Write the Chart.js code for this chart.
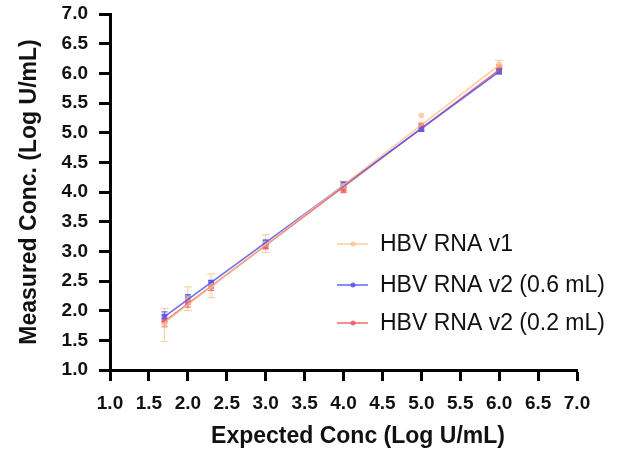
<!DOCTYPE html>
<html>
<head>
<meta charset="utf-8">
<script src="https://cdn.jsdelivr.net/npm/chart.js@4/dist/chart.umd.min.js"></script>
<style>
  html, body { margin: 0; padding: 0; background: #fff; }
  #wrap { width: 636px; height: 449px; }
</style>
</head>
<body>
<div id="wrap"><canvas id="concChart" width="636" height="449"></canvas></div>
<script>
// expected concentration (Log U/mL)
const expected = [1.7, 2.0, 2.3, 3.0, 4.0, 5.0, 6.0];

// measured means and SD per assay
const v1Mean = [1.76, 2.20, 2.42, 3.13, 4.10, 5.29, 6.15];
const v1Sd = [0.28, 0.20, 0.20, 0.15, 0.08, 0.0, 0.07];
const v206Mean = [1.90, 2.21, 2.47, 3.15, 4.12, 5.06, 6.03];
const v206Sd = [0.08, 0.06, 0.04, 0.04, 0.05, 0.04, 0.04];
const v202Mean = [1.83, 2.14, 2.41, 3.09, 4.05, 5.10, 6.09];
const v202Sd = [0.10, 0.08, 0.07, 0.05, 0.06, 0.06, 0.05];

// fitted lines, end points
const fitX = [1.7, 6.0];
const v1Fit = [1.80, 6.14];
const v206Fit = [1.90, 6.03];
const v202Fit = [1.82, 6.06];

const axisTicks = ['1.0', '1.5', '2.0', '2.5', '3.0', '3.5', '4.0', '4.5', '5.0', '5.5', '6.0', '6.5', '7.0'];
const seriesNames = ['HBV RNA v1', 'HBV RNA v2 (0.6 mL)', 'HBV RNA v2 (0.2 mL)'];
const xTitle = 'Expected Conc (Log U/mL)';
const yTitle = 'Measured Conc. (Log U/mL)';

const colV1 = 'rgba(246, 192, 140, 0.75)';
const colV206 = 'rgba(85, 85, 240, 0.85)';
const colV202 = 'rgba(240, 90, 90, 0.85)';

const FONT = '"Liberation Sans", Arial, sans-serif';

function pts(xs, ys) {
    return xs.map((x, i) => ({ x: x, y: ys[i] }));
}

const series = [
    { name: seriesNames[0], mean: v1Mean, sd: v1Sd, fit: v1Fit, color: colV1, style: 'circle', r: 3, cap: 4 },
    { name: seriesNames[1], mean: v206Mean, sd: v206Sd, fit: v206Fit, color: colV206, style: 'rect', r: 4, cap: 3 },
    { name: seriesNames[2], mean: v202Mean, sd: v202Sd, fit: v202Fit, color: colV202, style: 'rect', r: 4, cap: 3 }
];

const datasets = [];
series.forEach(s => {
    datasets.push({
        label: s.name + ' fit',
        data: pts(fitX, s.fit),
        showLine: true,
        borderColor: s.color,
        borderWidth: 1.6,
        pointRadius: 0,
        fill: false
    });
});
series.forEach(s => {
    datasets.push({
        label: s.name,
        data: pts(expected, s.mean),
        showLine: false,
        backgroundColor: s.color,
        borderColor: s.color,
        pointStyle: s.style,
        pointRadius: s.r,
        borderWidth: 0
    });
});

// error bars drawn from the sd arrays
const errorBars = {
    id: 'errorBars',
    beforeDatasetsDraw(chart) {
        const c = chart.ctx;
        const xs = chart.scales.x, ys = chart.scales.y;
        c.save();
        series.forEach(s => {
            c.strokeStyle = s.color;
            c.lineWidth = 1.2;
            expected.forEach((x, i) => {
                if (!s.sd[i]) return;
                const px = xs.getPixelForValue(x);
                const top = ys.getPixelForValue(s.mean[i] + s.sd[i]);
                const bot = ys.getPixelForValue(s.mean[i] - s.sd[i]);
                c.beginPath();
                c.moveTo(px, top); c.lineTo(px, bot);
                c.moveTo(px - s.cap, top); c.lineTo(px + s.cap, top);
                c.moveTo(px - s.cap, bot); c.lineTo(px + s.cap, bot);
                c.stroke();
            });
        });
        c.restore();
    }
};

// legend inside the plot and the x title (sits right of centre in the original)
const insideLegend = {
    id: 'insideLegend',
    afterDraw(chart) {
        const c = chart.ctx;
        const area = chart.chartArea;
        const x0 = area.left + 227;
        const rows = [244, 285, 323];
        c.save();
        c.font = '23px ' + FONT;
        c.textBaseline = 'middle';
        series.forEach((s, i) => {
            const y = rows[i];
            c.strokeStyle = s.color;
            c.lineWidth = 1.6;
            c.beginPath();
            c.moveTo(x0, y); c.lineTo(x0 + 31, y);
            c.stroke();
            c.fillStyle = s.color;
            c.beginPath();
            c.arc(x0 + 16, y, 2.5, 0, Math.PI * 2);
            c.fill();
            c.fillStyle = '#111';
            c.fillText(s.name, x0 + 43, y + 1);
        });
        c.font = 'bold 23px ' + FONT;
        c.textAlign = 'center';
        c.fillText(xTitle, area.left + 248, 437);
        c.restore();
    }
};

const tickFont = { family: FONT, size: 19, weight: 'bold' };
const titleFont = { family: FONT, size: 23, weight: 'bold' };

function axis(fitFn) {
    return {
        type: 'linear',
        min: 1,
        max: 7,
        afterBuildTicks: scale => {
            scale.ticks = axisTicks.map(t => ({ value: parseFloat(t) }));
        },
        ticks: {
            color: '#111',
            font: tickFont,
            padding: 11,
            callback: v => v.toFixed(1)
        },
        grid: {
            display: true,
            drawOnChartArea: false,
            drawTicks: true,
            tickLength: 11,
            tickWidth: 3,
            tickColor: '#000'
        },
        border: { display: true, color: '#000', width: 3 },
        afterFit: fitFn
    };
}

const xAxis = axis(s => { s.height = 79; s.paddingLeft = 0; s.paddingRight = 0; });
const yAxis = axis(s => { s.width = 110; s.paddingTop = 0; s.paddingBottom = 0; });
yAxis.title = { display: true, text: yTitle, color: '#111', font: titleFont, padding: { top: 16, bottom: 4 } };

new Chart(document.getElementById('concChart'), {
    type: 'scatter',
    data: { datasets: datasets },
    options: {
        responsive: false,
        devicePixelRatio: 1,
        animation: false,
        layout: { padding: { top: 14, right: 59, left: 0, bottom: 0 } },
        plugins: {
            legend: { display: false },
            tooltip: { enabled: false }
        },
        scales: { x: xAxis, y: yAxis }
    },
    plugins: [errorBars, insideLegend]
});
</script>
</body>
</html>
